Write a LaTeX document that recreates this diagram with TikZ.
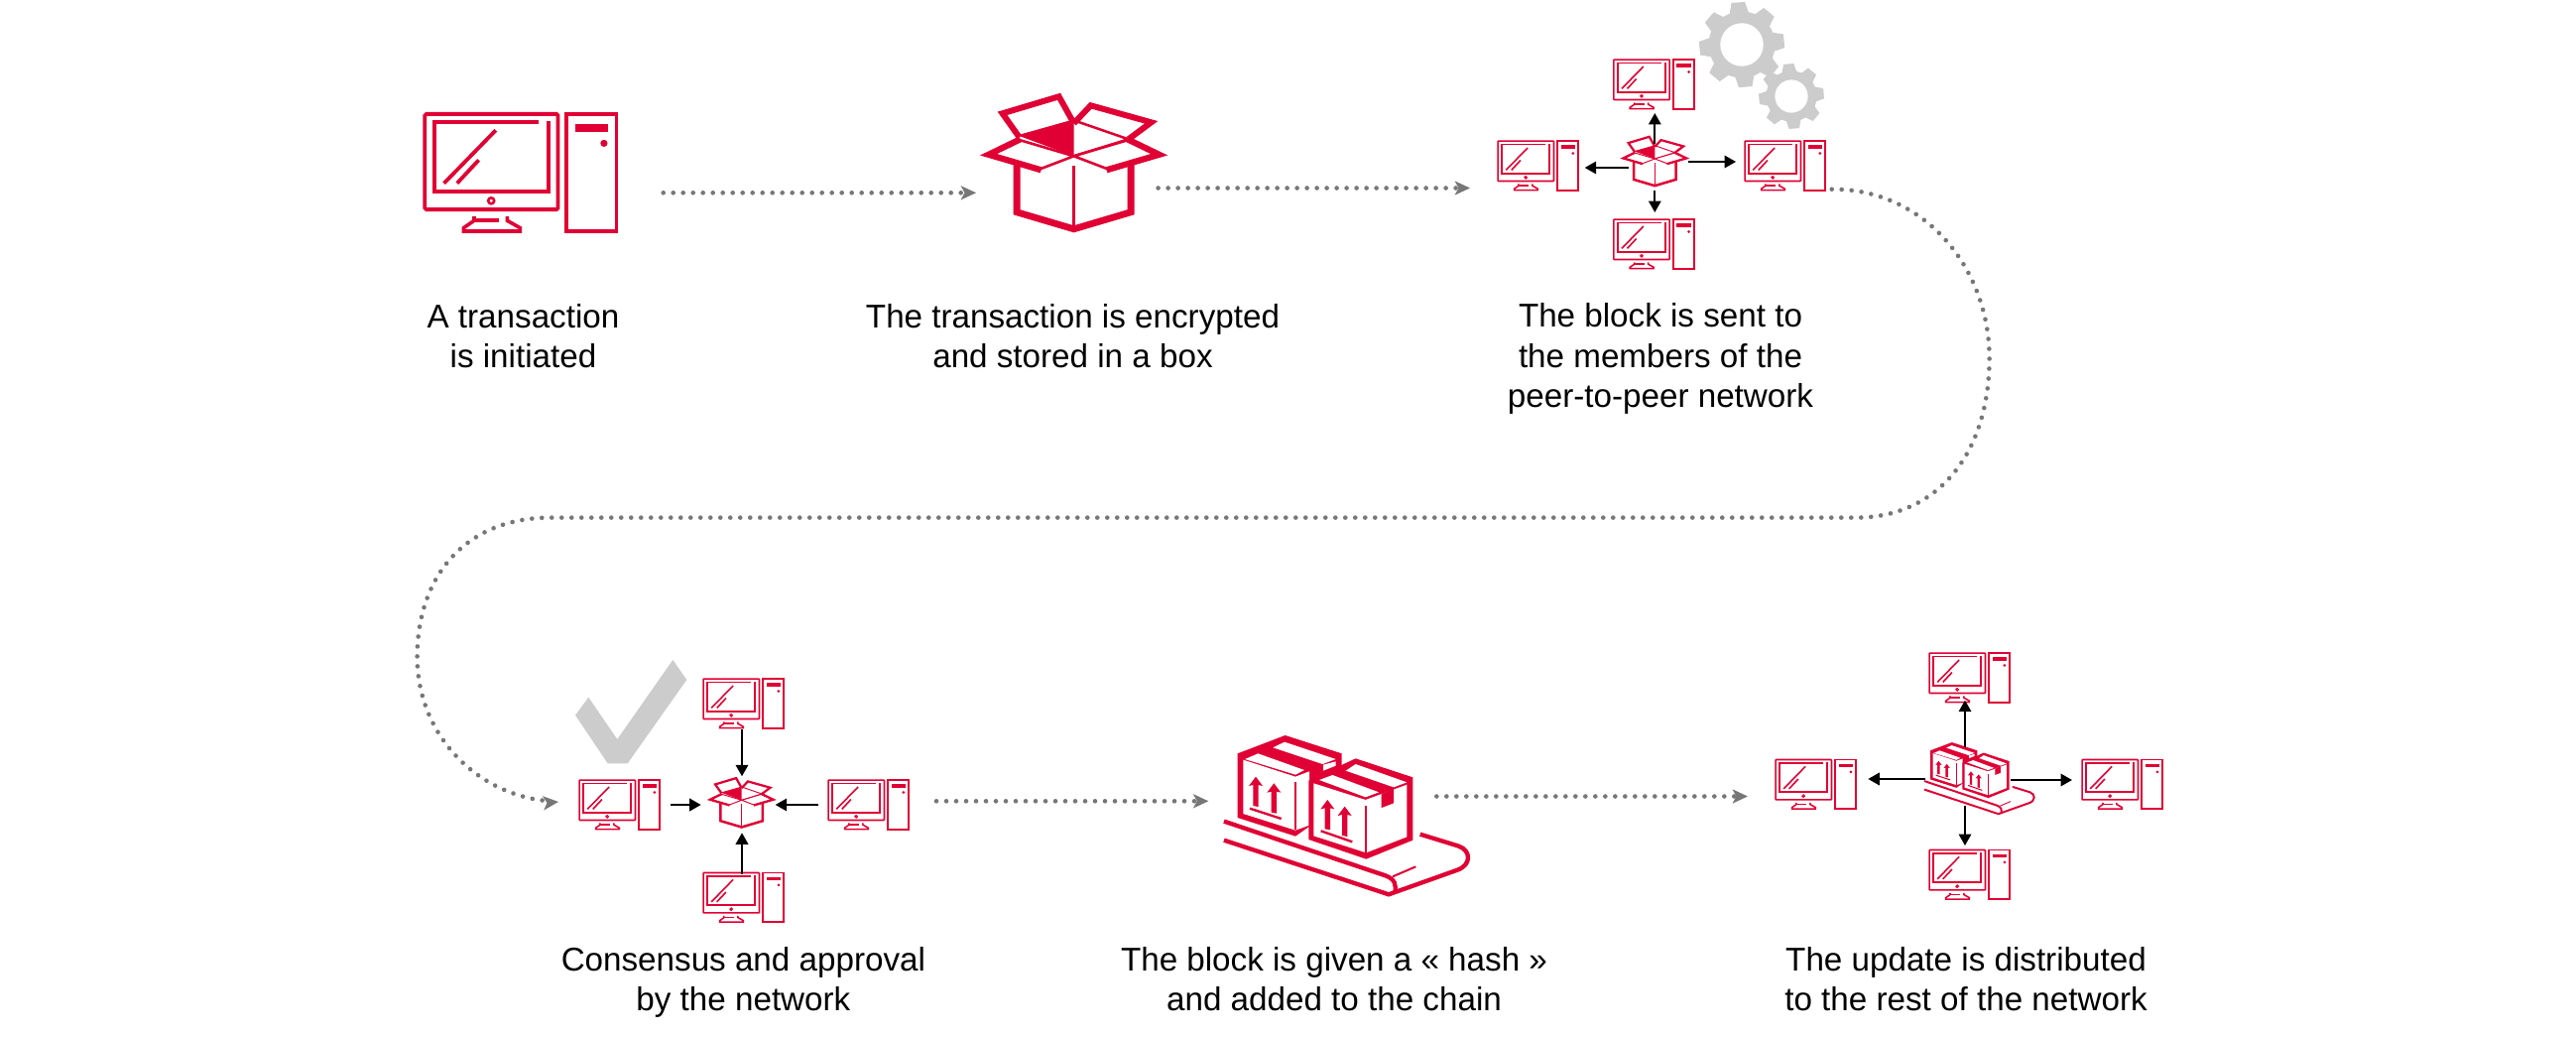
\documentclass[tikz,border=0pt]{standalone}
\usepackage{fontspec}
\setmainfont{Liberation Sans}
\usetikzlibrary{arrows.meta}
\definecolor{brand}{HTML}{E00034}
\definecolor{softgrey}{HTML}{CCCCCC}
\definecolor{dotgrey}{HTML}{777777}
\tikzset{
  ilw/.style={line width=#1*\is*1pt},
  iconline/.style={draw=brand,line cap=butt,line join=miter},
  dotflow/.style={draw=dotgrey,line width=4.6pt,line cap=round,dash pattern=on 0pt off 10pt},
  greytip/.style={fill=dotgrey},
  pusharrow/.style={draw=black,line width=2pt,-{Triangle[length=11.5pt,width=12.5pt]}},
  caption/.style={font=\fontsize{33.2}{40.5}\selectfont,align=center,anchor=base,text=black,inner sep=0pt},
}
% computer: #1 name, (#2,#3) top-left of monitor, #4 scale
\newcommand{\computer}[4]{%
\begin{scope}[shift={(#2,#3)},scale=#4,iconline]
\def\is{#4}
\coordinate (#1) at (0,0);
\draw[ilw=3.8,rounded corners=1.5*#4pt] (1.9,1.9) rectangle (136.1,98.1);
\draw[ilw=3.8] (144.9,1.9) rectangle (195.1,120.1);
\draw[ilw=4] (117,10.3) -- (11.5,10.3) -- (11.5,80) -- (126.2,80) -- (126.2,9);
\draw[ilw=3.8] (73.4,18.3) -- (21.2,71.7);
\draw[ilw=3.8] (56.2,48.3) -- (34.4,71.7);
\draw[ilw=2.6] (68.8,89.3) circle[radius=3];
\draw[ilw=3.6] (51.6,105) -- (51.6,109.3) -- (41,116.7) -- (41,120) -- (98,120) -- (98,116.7) -- (84.9,109.3) -- (84.9,105);
\draw[ilw=3.8] (51.6,109.3) -- (76.3,109.3);
\fill[brand] (153.2,12.3) rectangle (187,20);
\fill[brand] (182.5,31.4) circle[radius=3.6];
\end{scope}}
% open box: #1 name, (#2,#3) hub of the flaps, #4 scale
\newcommand{\parcel}[4]{%
\begin{scope}[shift={(#2,#3)},scale=#4,iconline]
\def\is{#4}
\coordinate (#1) at (0,0);
\draw[ilw=6.8] (-57.5,4) -- (-57.5,56.5) -- (0,73.5) -- (57.5,56.5) -- (57.5,4);
\draw[ilw=3] (0,10) -- (0,72);
\draw[ilw=6] (-55,-19) -- (-72,-43) -- (-15,-60) -- (0,-33);
\draw[ilw=6] (0,-33) -- (17,-51) -- (78,-34) -- (55,-17);
\draw[ilw=2.5] (0,-36) -- (55,-17) -- (0,0);
\draw[ilw=2.6,fill=white] (0,0) -- (-54,-16) -- (-87,-1) -- (-34,13) -- cycle;
\draw[ilw=2.6,fill=white] (0,0) -- (54,-16) -- (87,-1) -- (34,13) -- cycle;
\draw[ilw=6.2] (-33,14) -- (-86,-1.5) -- (-54,-17);
\draw[ilw=6.2] (33,14) -- (86,-1.5) -- (54,-17);
\fill[brand] (-57,-21) -- (0,-37) -- (0,0) -- cycle;
\end{scope}}
% crate arrows: (#1,#2) tip
\newcommand{\cratearrow}[2]{%
\fill[brand,shift={(#1,#2)}] (0,0) -- (21,28) -- (8,25) -- (8,91) -- (-8,88) -- (-8,25) -- (-21,28) -- cycle;}
% conveyor: #1 name, (#2,#3) origin, #4 scale (coordinates are in thirds of a pixel)
\newcommand{\conveyor}[4]{%
\begin{scope}[shift={(#2,#3)},scale=#4/3,iconline]
\def\is{#4/3}
\coordinate (#1) at (0,0);
\fill[brand] (143,118) -- (287,63) -- (458,118) -- (458,165) -- (372,200) -- (372,330) -- (318,368) -- (143,312) -- cycle;
\fill[white] (165,135) -- (205,118) -- (345,168) -- (318,182) -- cycle;
\fill[white] (250,100) -- (285,83) -- (440,135) -- (400,150) -- cycle;
\fill[white] (402,152) -- (440,142) -- (440,155) -- (402,170) -- cycle;
\fill[white] (160,137) -- (318,188) -- (360,172) -- (360,335) -- (318,350) -- (160,300) -- cycle;
\draw[ilw=6] (318,205) -- (318,347);
\cratearrow{198}{188}
\cratearrow{253}{208}
\draw[ilw=7] (180,284) -- (275,315);
\fill[brand] (358,200) -- (500,133) -- (673,190) -- (673,380) -- (532,437) -- (358,378) -- cycle;
\fill[white] (390,198) -- (430,183) -- (570,235) -- (530,250) -- cycle;
\fill[white] (470,170) -- (500,150) -- (655,205) -- (615,220) -- cycle;
\fill[white] (373,208) -- (530,258) -- (655,212) -- (655,370) -- (532,418) -- (373,367) -- cycle;
\fill[brand] (578,240) -- (615,225) -- (615,268) -- (578,282) -- cycle;
\draw[ilw=6] (532,275) -- (532,420);
\cratearrow{415}{258}
\cratearrow{467}{278}
\draw[ilw=7] (395,352) -- (490,385);
\draw[ilw=13] (102,323) -- (590,487) .. controls (618,497) and (625,515) .. (618,540);
\draw[ilw=13] (102,380) -- (600,544) -- (808,470) .. controls (850,455) and (850,412) .. (812,398) -- (695,362);
\draw[ilw=6] (612,490) -- (682,460);
\end{scope}}
% gear: #1 name, (#2,#3) centre, #4 scale
\newcommand{\gearwheel}[4]{%
\begin{scope}[shift={(#2,#3)},scale=#4]
\coordinate (#1) at (0,0);
\fill[softgrey] (0,0) circle[radius=33.5];
\foreach \a in {5,50,...,320}{
  \fill[softgrey,rotate=\a] (30,-10) -- (42.7,-6.8) -- (42.7,6.8) -- (30,10) -- cycle;}
\fill[white] (0,0) circle[radius=21.7];
\end{scope}}
\begin{document}
\begin{tikzpicture}[x=1pt,y=-1pt]
\useasboundingbox[fill=white] (0,0) rectangle (2597,1046);
% gears and check mark
\gearwheel{gearA}{1756}{45}{1}
\gearwheel{gearB}{1806}{97}{0.765}
\fill[softgrey] (580,720.7) -- (593.3,702.7) -- (622.3,745) -- (678.3,665) -- (692.3,685) -- (632.7,769.3) -- (612.7,769.3) -- cycle;
% step 1
\computer{pc}{426.4}{113}{1}
% step 2
\parcel{box}{1082.6}{157.3}{1}
% step 3
\computer{sTop}{1626}{59.3}{0.42}
\computer{sLeft}{1509.3}{141.3}{0.42}
\computer{sRight}{1758.3}{141.3}{0.42}
\computer{sBottom}{1626}{220.3}{0.42}
\parcel{sBox}{1668.3}{160}{0.37}
% step 4
\computer{cTop}{708.3}{683.3}{0.42}
\computer{cLeft}{583.3}{785.3}{0.42}
\computer{cRight}{834.3}{785.3}{0.42}
\computer{cBottom}{708.3}{878.7}{0.42}
\parcel{cBox}{747.7}{806.3}{0.37}
% step 5
\conveyor{belt}{1200}{720}{1}
% step 6
\computer{uTop}{1944.3}{657.3}{0.42}
\computer{uLeft}{1789.3}{764.7}{0.42}
\computer{uRight}{2098.3}{764.7}{0.42}
\computer{uBottom}{1944.3}{855.7}{0.42}
\conveyor{uBelt}{1924.7}{738.6}{0.45}
% connector ends
\coordinate (f1a) at (668.7,194.3); \coordinate (f1b) at (972,194.3); \coordinate (t1) at (984,194.3);
\coordinate (f2a) at (1167.6,189.5); \coordinate (f2b) at (1470,189.5); \coordinate (t2) at (1482,189.5);
\coordinate (f3a) at (1846.7,190.7); \coordinate (t3) at (563,808);
\coordinate (f4a) at (944,807.3); \coordinate (f4b) at (1206,807.3); \coordinate (t4) at (1218.3,807.3);
\coordinate (f5a) at (1448.3,802.5); \coordinate (f5b) at (1750,802.5); \coordinate (t5) at (1762,802.5);
% dotted flow
\draw[dotflow] (f1a) -- (f1b);
\draw[dotflow] (f2a) -- (f2b);
\draw[dotflow] (f3a) .. controls (1940,190) and (2005.6,270) .. (2005.6,361)
  .. controls (2005.6,455) and (1955,521.6) .. (1871,521.6) -- (555,521.6)
  .. controls (470,521.6) and (420.6,580) .. (420.6,662)
  .. controls (420.6,740) and (480,800) .. (551,807);
\draw[dotflow] (f4a) -- (f4b);
\draw[dotflow] (f5a) -- (f5b);
\foreach \t/\a in {t1/0,t2/0,t4/0,t5/0,t3/5}{
  \fill[greytip,shift={(\t)},rotate=\a] (0,0) -- (-15.5,7.2) -- (-11.5,0) -- (-15.5,-7.2) -- cycle;}
% black arrows
\coordinate (a1s) at (1668.3,145); \coordinate (a1e) at (1668.3,114);
\coordinate (a2s) at (1641.7,169); \coordinate (a2e) at (1597.7,169);
\coordinate (a3s) at (1702.3,163); \coordinate (a3e) at (1750,163);
\coordinate (a4s) at (1668.3,191.7); \coordinate (a4e) at (1668.3,214);
\draw[pusharrow] (a1s) -- (a1e);
\draw[pusharrow] (a2s) -- (a2e);
\draw[pusharrow] (a3s) -- (a3e);
\draw[pusharrow] (a4s) -- (a4e);
\coordinate (b1s) at (748,735); \coordinate (b1e) at (748,782.3);
\coordinate (b2s) at (676,811); \coordinate (b2e) at (706.7,811);
\coordinate (b3s) at (825,811); \coordinate (b3e) at (781.7,811);
\coordinate (b4s) at (748,880.7); \coordinate (b4e) at (748,839.3);
\draw[pusharrow] (b1s) -- (b1e);
\draw[pusharrow] (b2s) -- (b2e);
\draw[pusharrow] (b3s) -- (b3e);
\draw[pusharrow] (b4s) -- (b4e);
\coordinate (c1s) at (1981,752.7); \coordinate (c1e) at (1981,705.7);
\coordinate (c2s) at (1940.7,785); \coordinate (c2e) at (1883.3,785);
\coordinate (c3s) at (2027.3,786); \coordinate (c3e) at (2089,786);
\coordinate (c4s) at (1981,811.7); \coordinate (c4e) at (1981,852);
\draw[pusharrow] (c1s) -- (c1e);
\draw[pusharrow] (c2s) -- (c2e);
\draw[pusharrow] (c3s) -- (c3e);
\draw[pusharrow] (c4s) -- (c4e);
% captions
\node[caption] (l1) at (527.5,370.5) {A transaction\\is initiated};
\node[caption] (l2) at (1081.5,370.5) {The transaction is encrypted\\and stored in a box};
\node[caption] (l3) at (1674,410.5) {The block is sent to\\the members of the\\peer-to-peer network};
\node[caption] (l4) at (749.4,1018.5) {Consensus and approval\\by the network};
\node[caption] (l5) at (1345,1018.5) {The block is given a « hash »\\and added to the chain};
\node[caption] (l6) at (1982,1018.5) {The update is distributed\\to the rest of the network};
\end{tikzpicture}
\end{document}
